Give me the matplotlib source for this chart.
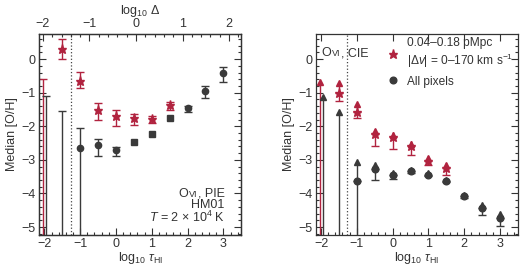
import numpy as np
import matplotlib
matplotlib.use('Agg')
import matplotlib.pyplot as plt
from matplotlib.ticker import MultipleLocator
from matplotlib.offsetbox import TextArea, HPacker, AnnotationBbox

plt.rcParams['font.family'] = ['Liberation Sans', 'DejaVu Sans']
plt.rcParams['font.size'] = 9
plt.rcParams['mathtext.fontset'] = 'custom'
plt.rcParams['mathtext.rm'] = 'Liberation Sans'
plt.rcParams['mathtext.it'] = 'Liberation Sans:italic'
plt.rcParams['mathtext.bf'] = 'Liberation Sans:bold'

RED = '#b1233f'
BLK = '#3a3a3a'
TXT = '#333333'

# ---- left panel (PIE) ----
pie_red_x = [-1.5, -1.0, -0.5, 0.0, 0.5, 1.0, 1.5]
pie_red_y = [0.29, -0.64, -1.52, -1.70, -1.75, -1.78, -1.37]
pie_red_lo = [0.0, -0.85, -1.81, -1.99, -1.96, -1.90, -1.52]
pie_red_hi = [0.61, -0.38, -1.32, -1.52, -1.64, -1.70, -1.27]
pie_red_lim_x = [-2.03]
pie_red_lim_top = [-0.60]

pie_blk_x = [-1.0, -0.5, 0.0, 2.0, 2.5, 3.0]
pie_blk_y = [-2.66, -2.55, -2.72, -1.47, -0.96, -0.40]
pie_blk_lo = [-9.0, -2.87, -2.87, -1.58, -1.17, -0.67]
pie_blk_hi = [-2.05, -2.37, -2.63, -1.40, -0.79, -0.23]
pie_sq_x = [0.5, 1.0, 1.5]
pie_sq_y = [-2.48, -2.22, -1.75]
pie_blk_lim_x = [-1.95, -1.5]
pie_blk_lim_top = [-1.10, -1.55]

# ---- right panel (CIE) ----
cie_red_x = [-1.5, -1.0, -0.5, 0.0, 0.5, 1.0, 1.5]
cie_red_y = [-1.00, -1.56, -2.23, -2.33, -2.58, -3.03, -3.24]
cie_red_arrow = [-0.70, -1.35, -2.14, -2.26, -2.52, -2.95, -3.15]
cie_red_lo = [-1.26, -1.76, -2.58, -2.68, -2.84, -3.15, -3.46]
cie_red_lim_x = [-2.03]
cie_red_lim_top = [-0.67]

cie_blk_x = [-1.0, -0.5, 0.0, 0.5, 1.0, 1.5, 2.0, 2.5, 3.0]
cie_blk_y = [-3.63, -3.27, -3.45, -3.34, -3.44, -3.62, -4.09, -4.42, -4.72]
cie_blk_arrow = [-3.07, -3.16, -3.39, -3.29, -3.40, -3.59, -4.04, -4.33, -4.62]
cie_blk_lo = [-9.0, -3.60, -3.57, -3.38, -3.47, -3.65, -4.14, -4.65, -4.97]
cie_blk_lim_x = [-1.95, -1.5]
cie_blk_lim_top = [-1.14, -1.58]

dotted_x = -1.27
xlo, xhi = -2.15, 3.5
# log10 tau = 0.56 + 1.3 log10 Delta
tau0, slope = 0.56, 1.3


def errs(y, lo, hi):
    y = np.array(y)
    return [y - np.array(lo), np.array(hi) - y]


def style(ax):
    ax.set_xlim(xlo, xhi)
    ax.set_ylim(-5.23, 0.75)
    ax.xaxis.set_major_locator(MultipleLocator(1))
    ax.xaxis.set_minor_locator(MultipleLocator(0.2))
    ax.yaxis.set_major_locator(MultipleLocator(1))
    ax.yaxis.set_minor_locator(MultipleLocator(0.2))
    ax.tick_params(which='both', direction='in', right=True, colors=TXT,
                   labelcolor=TXT, width=0.8)
    ax.tick_params(which='major', length=5, pad=2.5)
    ax.tick_params(which='minor', length=2.5)
    ax.set_xlabel(r'$\log_{10}\,\tau_{\rm HI}$', labelpad=0, color=TXT)
    ax.set_ylabel('Median [O/H]', labelpad=2, color=TXT)
    for s in ax.spines.values():
        s.set_color(TXT)
        s.set_linewidth(0.9)
    ax.axvline(dotted_x, ls=':', color='#444444', lw=0.9)


def ovi_label(ax, rest, xy, align):
    parts = [TextArea('O', textprops=dict(size=9, color=TXT)),
             TextArea('VI', textprops=dict(size=6.5, color=TXT)),
             TextArea(rest, textprops=dict(size=9, color=TXT))]
    box = HPacker(children=parts, align='baseline', pad=0, sep=0.5)
    ab = AnnotationBbox(box, xy, xycoords='axes fraction', frameon=False,
                        box_alignment=align, pad=0)
    ax.add_artist(ab)


fig = plt.figure(figsize=(5.2, 2.65), dpi=100)
ax1 = fig.add_axes([0.075, 0.114, 0.389, 0.758])
ax2 = fig.add_axes([0.607, 0.114, 0.389, 0.758])

eb = dict(lw=1.0, capsize=2.6, capthick=1.0)

# left panel
ax1.errorbar(pie_red_lim_x, pie_red_lim_top, yerr=[[20], [0]], fmt='none',
             ecolor=RED, **eb)
ax1.errorbar(pie_blk_lim_x, pie_blk_lim_top, yerr=[[20, 20], [0, 0]], fmt='none',
             ecolor=BLK, **eb)
ax1.errorbar(pie_red_x, pie_red_y, yerr=errs(pie_red_y, pie_red_lo, pie_red_hi),
             fmt='*', color=RED, ms=6.5, **eb)
ax1.errorbar(pie_blk_x, pie_blk_y, yerr=errs(pie_blk_y, pie_blk_lo, pie_blk_hi),
             fmt='o', color=BLK, ms=4.5, **eb)
ax1.plot(pie_sq_x, pie_sq_y, 's', color=BLK, ms=4.2)
style(ax1)
ax1.tick_params(top=False)

top = ax1.twiny()
top.set_xlim((xlo - tau0) / slope, (xhi - tau0) / slope)
top.xaxis.set_major_locator(MultipleLocator(1))
top.xaxis.set_minor_locator(MultipleLocator(0.2))
top.tick_params(which='both', direction='in', colors=TXT, labelcolor=TXT, width=0.8)
top.tick_params(which='major', length=5, pad=2.5)
top.tick_params(which='minor', length=2.5)
top.set_xlabel(r'$\log_{10}\,\Delta$', labelpad=3, color=TXT)
for s in top.spines.values():
    s.set_color(TXT)
    s.set_linewidth(0.9)

ovi_label(ax1, ', PIE', (0.918, 0.205), (1, 0.5))
ax1.text(0.918, 0.147, 'HM01', transform=ax1.transAxes, ha='right', va='center', color=TXT)
ax1.text(0.918, 0.085, r'$T$ = 2 $\times$ 10$^4$ K', transform=ax1.transAxes,
         ha='right', va='center', color=TXT)

# right panel
ax2.errorbar(cie_red_lim_x, cie_red_lim_top, yerr=[[20], [0]], fmt='none',
             ecolor=RED, lw=1.0)
ax2.plot(cie_red_lim_x, cie_red_lim_top, '^', color=RED, ms=4.5)
ax2.errorbar(cie_blk_lim_x, cie_blk_lim_top, yerr=[[20, 20], [0, 0]], fmt='none',
             ecolor=BLK, lw=1.0)
ax2.plot(cie_blk_lim_x, cie_blk_lim_top, '^', color=BLK, ms=4.5)

ax2.vlines(cie_red_x, cie_red_y, cie_red_arrow, color=RED, lw=1.0)
ax2.plot(cie_red_x, cie_red_arrow, '^', color=RED, ms=4.5)
ax2.errorbar(cie_red_x, cie_red_y,
             yerr=[np.array(cie_red_y) - np.array(cie_red_lo), np.zeros(len(cie_red_y))],
             fmt='none', ecolor=RED, **eb)
hs, = ax2.plot(cie_red_x, cie_red_y, '*', color=RED, ms=6.5)

ax2.vlines(cie_blk_x, cie_blk_y, cie_blk_arrow, color=BLK, lw=1.0)
ax2.plot(cie_blk_x, cie_blk_arrow, '^', color=BLK, ms=4.5)
ax2.errorbar(cie_blk_x, cie_blk_y,
             yerr=[np.array(cie_blk_y) - np.array(cie_blk_lo), np.zeros(len(cie_blk_y))],
             fmt='none', ecolor=BLK, **eb)
hc, = ax2.plot(cie_blk_x, cie_blk_y, 'o', color=BLK, ms=4.8)
style(ax2)
ax2.tick_params(top=True)

ovi_label(ax2, ', CIE', (0.03, 0.905), (0, 0.5))
leg = ax2.legend([hs, hc], ['0.04\u20130.18 pMpc\n$|\\Delta v|$ = 0\u2013170 km s$^{-1}$', 'All pixels'],
                 loc='upper left', bbox_to_anchor=(0.3, 1.03), frameon=False,
                 handlelength=1.2, handletextpad=0.6, labelspacing=0.45, borderpad=0.3,
                 fontsize=8.6)
for t in leg.get_texts():
    t.set_color(TXT)

fig.savefig('out.png', dpi=100)
